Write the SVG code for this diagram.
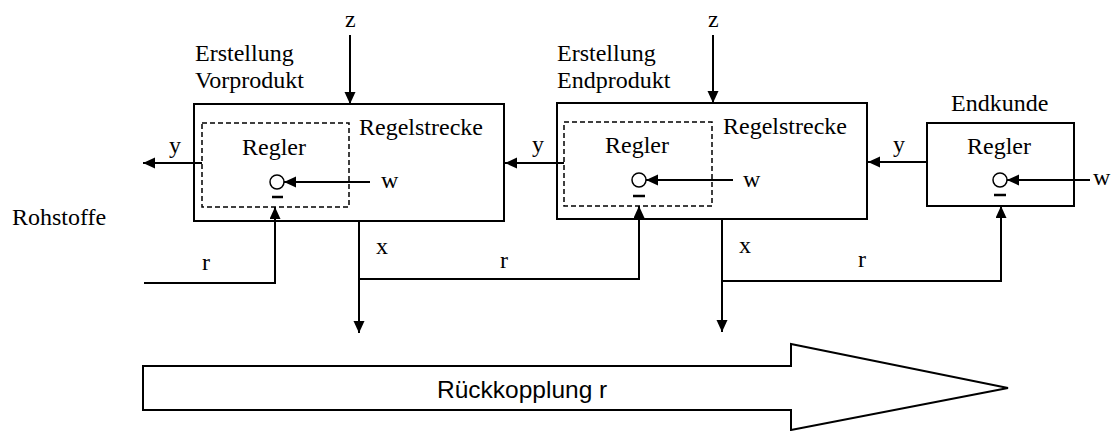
<svg xmlns="http://www.w3.org/2000/svg" width="1113" height="431" viewBox="0 0 1113 431">
<style>
.t{font-family:"Liberation Serif","Times New Roman",serif;font-size:24px;fill:#000}
.s{font-family:"Liberation Sans",Arial,sans-serif;font-size:24.5px;fill:#000}
.box{fill:#fff;stroke:#000;stroke-width:2}
.dash{fill:none;stroke:#000;stroke-width:1.5;stroke-dasharray:5,3}
.c{fill:none;stroke:#000;stroke-width:2}
.a{fill:none;stroke:#000;stroke-width:2;marker-end:url(#ah)}
.circ{fill:#fff;stroke:#000;stroke-width:1.5}
.m{stroke:#000;stroke-width:2.5}
</style>
<defs>
<marker id="ah" markerUnits="userSpaceOnUse" markerWidth="14" markerHeight="12" refX="12" refY="5.5" orient="auto">
<path d="M0,0 L12,5.5 L0,11 z" fill="#000"/>
</marker>
</defs>
<rect width="1113" height="431" fill="#fff"/>

<g id="node-vorprodukt">
<rect class="box" x="194" y="104" width="310" height="117"/>
<rect class="dash" x="202" y="123" width="147" height="84"/>
<text class="t" x="195" y="61">Erstellung</text>
<text class="t" x="195" y="88">Vorprodukt</text>
<text class="t" x="359" y="135">Regelstrecke</text>
<text class="t" x="242" y="155">Regler</text>
<circle class="circ" cx="277" cy="182" r="7"/>
<line class="m" x1="272" y1="197" x2="283" y2="197"/>
</g>

<g id="node-endprodukt">
<rect class="box" x="557" y="103" width="310" height="116"/>
<rect class="dash" x="564" y="122" width="148" height="84"/>
<text class="t" x="557" y="61">Erstellung</text>
<text class="t" x="557" y="88">Endprodukt</text>
<text class="t" x="723" y="134">Regelstrecke</text>
<text class="t" x="605" y="153">Regler</text>
<circle class="circ" cx="639" cy="180" r="7"/>
<line class="m" x1="633" y1="196" x2="645" y2="196"/>
</g>

<g id="node-endkunde">
<rect class="box" x="927" y="123" width="147" height="83"/>
<text class="t" x="951" y="111">Endkunde</text>
<text class="t" x="967" y="154">Regler</text>
<circle class="circ" cx="1000" cy="180" r="7"/>
<line class="m" x1="994" y1="195" x2="1006" y2="195"/>
</g>

<g id="node-rohstoffe">
<text class="t" x="12" y="225">Rohstoffe</text>
</g>

<g id="node-rueckkopplung">
<polygon class="box" points="143,366 791,366 791,344 1008,388 791,430 791,410 143,410"/>
<text class="s" x="437" y="398">Rückkopplung r</text>
</g>

<g id="connectors">
<line class="a" x1="350" y1="35" x2="350" y2="104"/>
<line class="a" x1="713" y1="35" x2="713" y2="103"/>
<line class="a" x1="202" y1="163" x2="143" y2="163"/>
<line class="a" x1="564" y1="163" x2="505" y2="163"/>
<line class="a" x1="927" y1="162" x2="868" y2="162"/>
<line class="a" x1="370" y1="182" x2="284" y2="182"/>
<line class="a" x1="733" y1="180" x2="646" y2="180"/>
<line class="a" x1="1090" y1="180" x2="1007" y2="180"/>
<polyline class="a" points="144,283 275,283 275,207"/>
<line class="a" x1="359" y1="221" x2="359" y2="333"/>
<polyline class="a" points="359,279 639,279 639,206"/>
<line class="a" x1="722" y1="219" x2="722" y2="332"/>
<polyline class="a" points="722,281 1001,281 1001,206"/>
</g>

<g id="labels">
<text class="t" x="345" y="27">z</text>
<text class="t" x="708" y="27">z</text>
<text class="t" x="169" y="153">y</text>
<text class="t" x="532" y="152">y</text>
<text class="t" x="893" y="152">y</text>
<text class="t" x="381" y="188">w</text>
<text class="t" x="743" y="187">w</text>
<text class="t" x="1093" y="185">w</text>
<text class="t" x="376" y="254">x</text>
<text class="t" x="739" y="253">x</text>
<text class="t" x="202" y="270">r</text>
<text class="t" x="500" y="268">r</text>
<text class="t" x="858" y="267">r</text>
</g>
</svg>
